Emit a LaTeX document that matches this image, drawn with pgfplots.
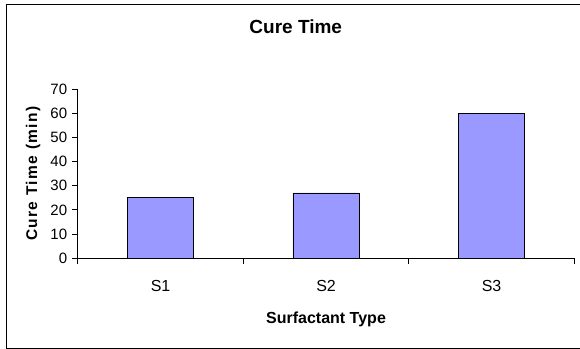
\documentclass[border=0pt]{standalone}
\usepackage{fontspec}
\setmainfont{Liberation Sans}
\usepackage{pgfplots}
\pgfplotsset{compat=1.18}
\definecolor{barblue}{HTML}{9999FF}
\begin{document}
\begin{tikzpicture}
\path[use as bounding box] (0bp,0bp) rectangle (580bp,349bp);
% chart area border
\draw[line width=1.5bp] (6.7bp,0.7bp) rectangle (590bp,344.3bp);
\begin{axis}[
  at={(77.8bp,90.7bp)}, anchor=south west,
  scale only axis, width=496.5bp, height=169.3bp,
  xmin=-0.5, xmax=2.5, ymin=0, ymax=70,
  axis lines*=left,
  axis line style={-, line width=1bp, black},
  tick align=outside,
  major tick length=5.5bp,
  tick style={black, line width=0.9bp},
  ytick={0,10,...,70},
  xtick={-0.5,0.5,1.5,2.5}, xticklabels={},
  extra x ticks={0,1,2},
  extra x tick labels={S1,S2,S3},
  extra x tick style={grid=none, major tick length=0pt},
  /pgf/number format/assume math mode=true,
  yticklabel style={font=\fontsize{15bp}{18bp}\selectfont, anchor=east,
    inner sep=0pt, xshift=-5bp},
  xticklabel style={font=\fontsize{16bp}{19bp}\selectfont, anchor=north,
    inner sep=0pt, yshift=-21.5bp},
  title={Cure Time},
  title style={at={(0.439,1.2936)}, anchor=base, inner sep=0pt,
    font=\bfseries\fontsize{19bp}{22bp}\selectfont},
  xlabel={Surfactant Type},
  xlabel style={at={(0.5,-0.384)}, anchor=base, inner sep=0pt,
    font=\bfseries\fontsize{16bp}{19bp}\selectfont},
  ylabel={Cure Time (min)},
  ylabel style={at={(-0.0817,0.5)}, anchor=base, inner sep=0pt,
    font=\bfseries\fontsize{15.5bp}{18bp}\selectfont\addfontfeatures{LetterSpace=9}},
]
\addplot[ybar, bar width=0.4, fill=barblue, draw=black, line width=0.9bp]
  coordinates {(0,25) (1,27) (2,60)};
\end{axis}
\end{tikzpicture}
\end{document}
